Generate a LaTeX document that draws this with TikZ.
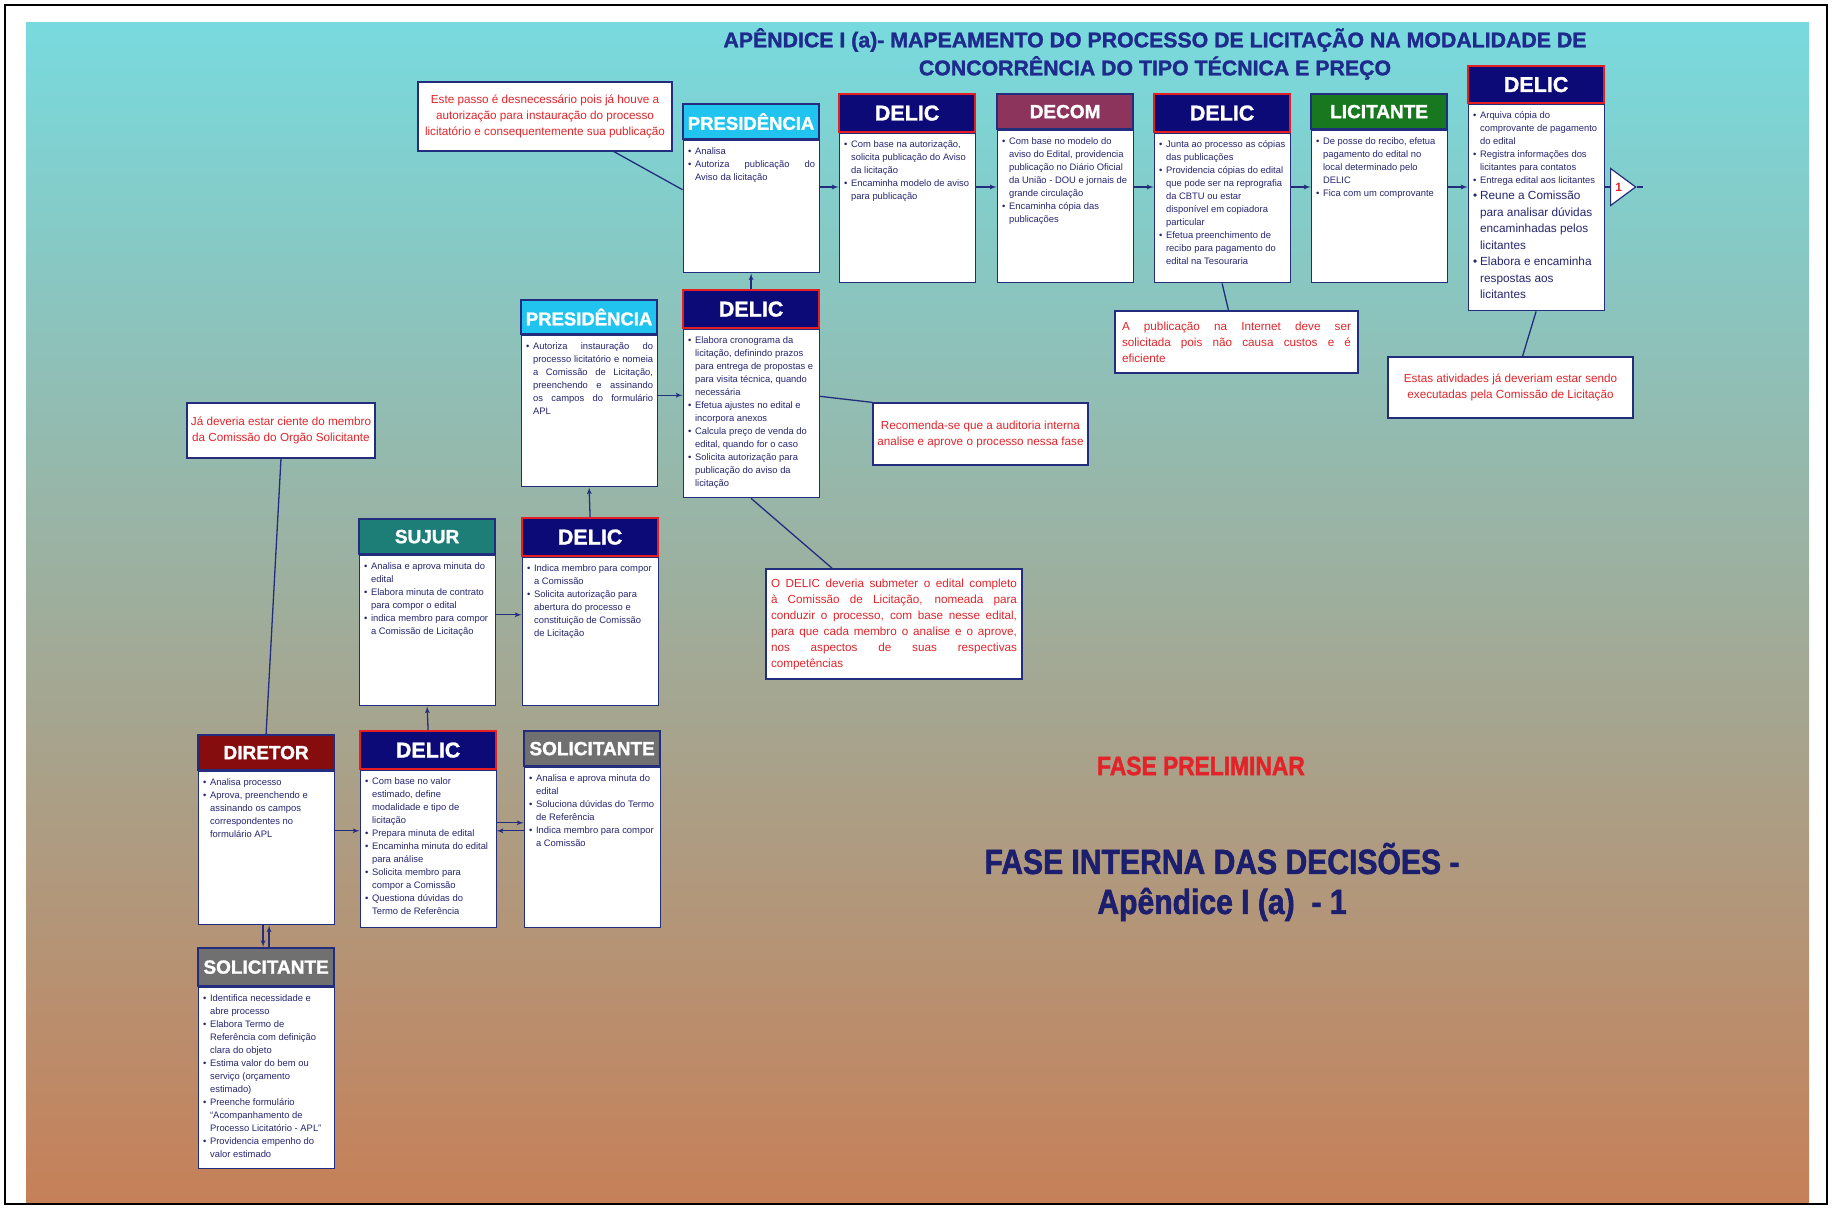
\documentclass[tikz,border=0pt]{standalone}
\usepackage{fontspec}
\setmainfont{Liberation Sans}
\newfontfamily\heavyfont{Liberation Sans}[BoldFeatures={FakeBold=1.4}]
\newfontfamily\narrowheavy{Liberation Sans}[FakeStretch=0.86,BoldFeatures={FakeBold=1.6}]
\usetikzlibrary{arrows,positioning,shapes.geometric}

\definecolor{navyline}{RGB}{35,45,125}
\definecolor{delicblue}{RGB}{12,10,118}
\definecolor{delicred}{RGB}{228,30,35}
\definecolor{presblue}{RGB}{32,196,238}
\definecolor{decomred}{RGB}{140,52,92}
\definecolor{licgreen}{RGB}{24,120,32}
\definecolor{sujurteal}{RGB}{28,126,118}
\definecolor{dirred}{RGB}{135,12,14}
\definecolor{solgrey}{RGB}{112,112,112}
\definecolor{notered}{RGB}{226,36,42}
\definecolor{bodytext}{RGB}{38,38,112}
\definecolor{titleblue}{RGB}{30,42,140}
\definecolor{phaseblue}{RGB}{28,30,110}
\definecolor{bgtop}{RGB}{120,218,222}
\definecolor{bgmid}{RGB}{150,180,160}
\definecolor{bgbot}{RGB}{198,128,88}

\newcommand{\itm}{\par\noindent\hangindent=8pt\hangafter=1\makebox[8pt][l]{\hspace{1pt}\textbullet}}
\newcommand{\boxtext}[2]{\parbox[t][#1][t]{128pt}{\vspace*{2.5pt}\raggedright #2}}
\newcommand{\boxjust}[2]{\parbox[t][#1][t]{128pt}{\vspace*{2.5pt}#2}}

\begin{document}
\begin{tikzpicture}[x=1pt,y=-1pt,>=latex',
    hdr/.style={draw=navyline,line width=2.2pt,minimum width=136pt,
      minimum height=35pt,anchor=north west,inner sep=0pt,text=white,
      font=\heavyfont\fontsize{19}{19}\selectfont\bfseries},
    delic/.style={hdr,draw=delicred,fill=delicblue,minimum height=38pt,
      font=\heavyfont\fontsize{21.5}{21.5}\selectfont\bfseries},
    body/.style={draw=navyline,line width=1.2pt,fill=white,inner xsep=4pt,
      inner ysep=4pt,below=0pt of #1,text=bodytext,
      font=\fontsize{9.4}{13}\selectfont},
    note/.style={draw=navyline,line width=1.2pt,fill=white,text=notered,
      font=\fontsize{11.7}{16}\selectfont,align=center,inner sep=0pt},
    every edge/.style={draw=navyline,line width=1.3pt}]

  % page and background
  \useasboundingbox (0,0) rectangle (1832,1209);
  \fill[white] (0,0) rectangle (1832,1209);
  \shade[top color=bgtop,middle color=bgmid,bottom color=bgbot]
    (26,23) rectangle (1809,1203);
  \draw[line width=2pt] (5,5) rectangle (1827,1204);

  \node[text=titleblue,font=\heavyfont\fontsize{21.3}{28}\selectfont\bfseries,align=center]
    (title) at (1155,54) {APÊNDICE I (a)- MAPEAMENTO DO PROCESSO DE LICITAÇÃO NA MODALIDADE DE\\CONCORRÊNCIA DO TIPO TÉCNICA E PREÇO};

  % top row
  \node[hdr,fill=presblue,font=\heavyfont\fontsize{18.5}{18.5}\selectfont\bfseries] (pres1-h) at (682,103) {PRESIDÊNCIA};
  \node[body=pres1-h] (pres1) {\boxjust{124pt}{\itm Analisa
    \itm Autoriza publicação do\linebreak Aviso da licitação}};

  \node[delic] (delicA-h) at (838,93) {DELIC};
  \node[body=delicA-h] (delicA) {\boxtext{141pt}{\itm Com base na autorização,\newline
    solicita publicação do Aviso\newline da licitação
    \itm Encaminha modelo de aviso\newline para publicação}};

  \node[hdr,fill=decomred] (decom-h) at (996,93) {DECOM};
  \node[body=decom-h] (decom) {\boxtext{144pt}{\itm Com base no modelo do\newline
    aviso do Edital, providencia\newline publicação no Diário Oficial\newline
    da União - DOU e jornais de\newline grande circulação
    \itm Encaminha cópia das\newline publicações}};

  \node[delic] (delicB-h) at (1153,93) {DELIC};
  \node[body=delicB-h] (delicB) {\boxtext{141pt}{\itm Junta ao processo as cópias\newline
    das publicações
    \itm Providencia cópias do edital\newline que pode ser na reprografia\newline
    da CBTU ou estar\newline disponível em copiadora\newline particular
    \itm Efetua preenchimento de\newline recibo para pagamento do\newline
    edital na Tesouraria}};

  \node[hdr,fill=licgreen] (lic-h) at (1310,93) {LICITANTE};
  \node[body=lic-h] (lic) {\boxtext{144pt}{\itm De posse do recibo, efetua\newline
    pagamento do edital no\newline local determinado pelo\newline DELIC
    \itm Fica com um comprovante}};

  \node[delic,minimum height=37pt] (delicC-h) at (1467,65) {DELIC};
  \node[body=delicC-h] (delicC) {\boxtext{198pt}{\itm Arquiva cópia do\newline
    comprovante de pagamento\newline do edital
    \itm Registra informações dos\newline licitantes para contatos
    \itm Entrega edital aos licitantes\par
    \fontsize{11.8}{16.5}\selectfont
    \itm Reune a Comissão\newline para analisar dúvidas\newline
    encaminhadas pelos\newline licitantes
    \itm Elabora e encaminha\newline respostas aos\newline licitantes}};

  \node[isosceles triangle,draw=navyline,line width=1.2pt,fill=white,
    minimum width=37pt,minimum height=25pt,isosceles triangle stretches,
    inner sep=0pt,anchor=lower side,text=notered,
    font=\fontsize{12}{12}\selectfont\bfseries] (conn1) at (1610,187) {1};
  \coordinate (conn1-out) at (1643,187);

  % middle
  \node[hdr,fill=presblue,font=\heavyfont\fontsize{18.5}{18.5}\selectfont\bfseries,minimum height=34pt] (pres2-h) at (520,299) {PRESIDÊNCIA};
  \node[body=pres2-h] (pres2) {\boxjust{143pt}{\itm Autoriza instauração do\linebreak
    processo licitatório e nomeia\linebreak a Comissão de Licitação,\linebreak
    preenchendo e assinando\linebreak os campos do formulário\linebreak APL}};

  \node[delic] (delicM-h) at (682,289) {DELIC};
  \node[body=delicM-h] (delicM) {\boxtext{160pt}{\itm Elabora cronograma da\newline
    licitação, definindo prazos\newline para entrega de propostas e\newline
    para visita técnica, quando\newline necessária
    \itm Efetua ajustes no edital e\newline incorpora anexos
    \itm Calcula preço de venda do\newline edital, quando for o caso
    \itm Solicita autorização para\newline publicação do aviso da\newline licitação}};

  \node[hdr,fill=sujurteal] (sujur-h) at (358,518) {SUJUR};
  \node[body=sujur-h] (sujur) {\boxtext{142pt}{\itm Analisa e aprova minuta do\newline edital
    \itm Elabora minuta de contrato\newline para compor o edital
    \itm indica membro para compor\newline a Comissão de Licitação}};

  \node[delic] (delicS-h) at (521,517) {DELIC};
  \node[body=delicS-h] (delicS) {\boxtext{140pt}{\itm Indica membro para compor\newline a Comissão
    \itm Solicita autorização para\newline abertura do processo e\newline
    constituição de Comissão\newline de Licitação}};

  % bottom
  \node[hdr,fill=dirred] (dir-h) at (197,734) {DIRETOR};
  \node[body=dir-h] (dir) {\boxtext{145pt}{\itm Analisa processo
    \itm Aprova, preenchendo e\newline assinando os campos\newline
    correspondentes no\newline formulário APL}};

  \node[delic] (delicD-h) at (359,730) {DELIC};
  \node[body=delicD-h] (delicD) {\boxtext{149pt}{\itm Com base no valor\newline
    estimado, define\newline modalidade e tipo de\newline licitação
    \itm Prepara minuta de edital
    \itm Encaminha minuta do edital\newline para análise
    \itm Solicita membro para\newline compor a Comissão
    \itm Questiona dúvidas do\newline Termo de Referência}};

  \node[hdr,fill=solgrey] (solM-h) at (523,730) {SOLICITANTE};
  \node[body=solM-h] (solM) {\boxtext{152pt}{\itm Analisa e aprova minuta do\newline edital
    \itm Soluciona dúvidas do Termo\newline de Referência
    \itm Indica membro para compor\newline a Comissão}};

  \node[hdr,fill=solgrey,minimum height=38pt] (solB-h) at (197,947) {SOLICITANTE};
  \node[body=solB-h] (solB) {\boxtext{173pt}{\itm Identifica necessidade e\newline abre processo
    \itm Elabora Termo de\newline Referência com definição\newline clara do objeto
    \itm Estima valor do bem ou\newline serviço (orçamento\newline estimado)
    \itm Preenche formulário\newline “Acompanhamento de\newline Processo Licitatório - APL”
    \itm Providencia empenho do\newline valor estimado}};

  % remarks
  \node[note,minimum width=254pt,minimum height=69pt] (nStep) at (545,116.5)
    {Este passo é desnecessário pois já houve a\\autorização para instauração do processo\\licitatório e consequentemente sua publicação};
  \node[note,minimum width=215pt,minimum height=62pt] (nAudit) at (980.5,434)
    {Recomenda-se que a auditoria interna\\analise e aprove o processo nessa fase};
  \node[note,minimum width=243pt,minimum height=62pt,text width=229pt,align=justify] (nWeb) at (1236.5,342)
    {A publicação na Internet deve ser\linebreak solicitada pois não causa custos e é\linebreak eficiente};
  \node[note,minimum width=245pt,minimum height=61pt] (nComm) at (1510.5,387.5)
    {Estas atividades já deveriam estar sendo\\executadas pela Comissão de Licitação};
  \node[note,minimum width=188pt,minimum height=55pt] (nMember) at (281,430.5)
    {Já deveria estar ciente do membro\\da Comissão do Orgão Solicitante};
  \node[note,minimum width=256pt,minimum height=110pt,text width=246pt,align=justify] (nEdital) at (894,624)
    {O DELIC deveria submeter o edital completo\linebreak à Comissão de Licitação, nomeada para\linebreak
    conduzir o processo, com base nesse edital,\linebreak para que cada membro o analise e o aprove,\linebreak
    nos aspectos de suas respectivas\linebreak competências};

  \node[text=notered,font=\narrowheavy\fontsize{26.5}{26.5}\selectfont\bfseries] (prelim) at (1201,766) {FASE PRELIMINAR};
  \node[text=phaseblue,font=\narrowheavy\fontsize{35}{40}\selectfont\bfseries,align=center] (phase) at (1222,882)
    {FASE INTERNA DAS DECISÕES -\\Apêndice I (a)~~- 1};

  % flow
  \coordinate (toprow) at (0,187);
  \path[->] (pres1.east |- toprow) edge (delicA.west |- toprow)
        (delicA.east |- toprow) edge (decom.west |- toprow)
        (decom.east |- toprow) edge (delicB.west |- toprow)
        (delicB.east |- toprow) edge (lic.west |- toprow)
        (lic.east |- toprow) edge (delicC.west |- toprow)
        (delicM-h.north) edge (pres1.south)
        ([yshift=16pt]pres2.east) edge ([yshift=16pt]pres2.east -| delicM.west)
        (delicS-h.north) edge (pres2.south)
        ([yshift=16pt]sujur.east) edge ([yshift=16pt]sujur.east -| delicS.west)
        (delicD-h.north) edge (sujur.south)
        ([yshift=17.5pt]dir.east) edge ([yshift=17.5pt]dir.east -| delicD.west)
        ([yshift=26.5pt]delicD.east) edge ([yshift=26.5pt]delicD.east -| solM.west)
        ([yshift=17pt]solM.west) edge ([yshift=17pt]solM.west -| delicD.east)
        ([xshift=-3pt]dir.south) edge ([xshift=-3pt]dir.south |- solB-h.north)
        ([xshift=3pt]solB-h.north) edge ([xshift=3pt]solB-h.north |- dir.south);

  \path (delicC.east |- toprow) edge (conn1.lower side)
        (conn1.apex) edge (conn1-out)
        (nStep.-27) edge (pres1.166)
        ([yshift=17.5pt]delicM.east) edge (nAudit.north west)
        (delicM.south) edge (nEdital.138)
        (delicB.south) edge ([xshift=-8pt]nWeb.north)
        (delicC.south) edge ([xshift=12pt]nComm.north)
        (nMember.south) edge (dir-h.north);

\end{tikzpicture}
\end{document}
